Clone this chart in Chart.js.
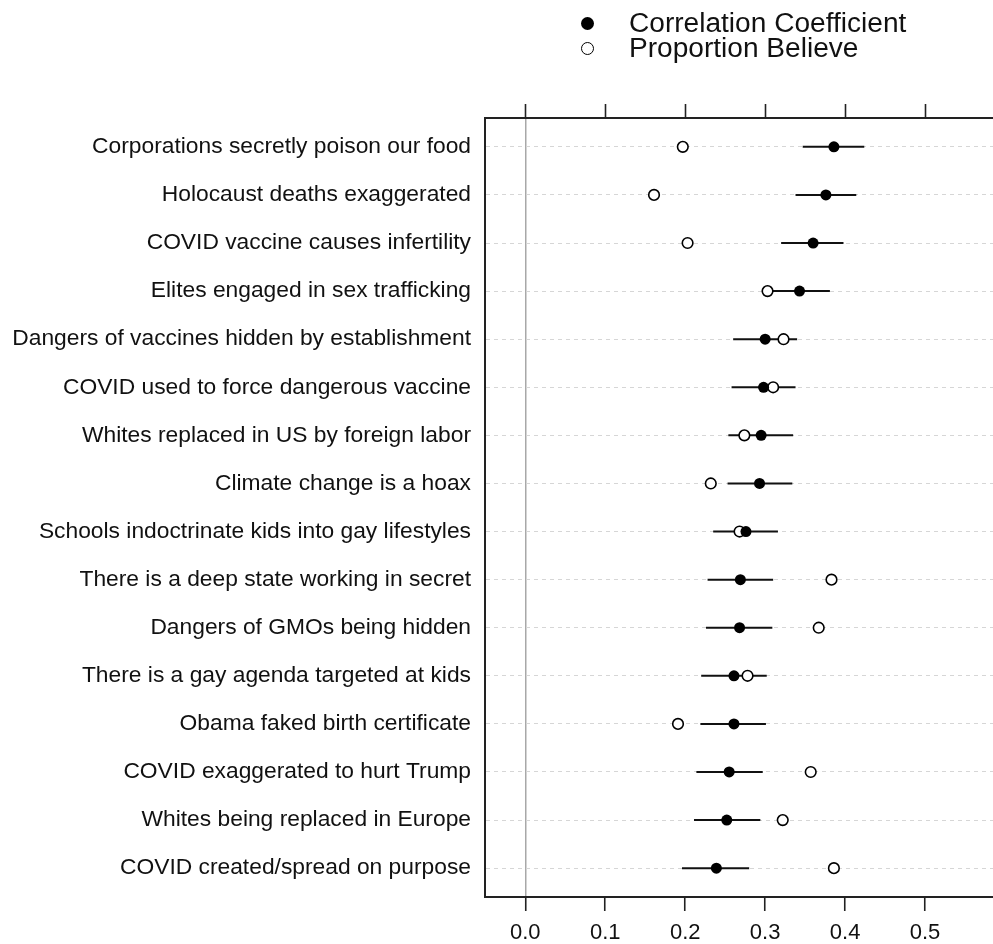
<!DOCTYPE html>
<html>
<head>
<meta charset="utf-8">
<script src="https://cdn.jsdelivr.net/npm/chart.js@4.4.1/dist/chart.umd.min.js"></script>
<style>
  body { margin: 0; background: #fff; }
  #wrap { position: relative; width: 993px; height: 944px; }
  .leg { position: absolute; font-family: "Liberation Sans", Arial, sans-serif; font-size: 27px; line-height: 27px; color: #111; white-space: nowrap; transform: scaleX(1.04); transform-origin: left center; }
  .dot { position: absolute; border-radius: 50%; box-sizing: border-box; }
</style>
</head>
<body>
<div id="wrap">
  <canvas id="chart"></canvas>
  <span class="dot" style="left:581px; top:17px; width:13px; height:13px; background:#000;"></span>
  <span class="leg" style="left:629px; top:10px;">Correlation Coefficient</span>
  <span class="dot" style="left:581px; top:42px; width:13px; height:13px; border:1.6px solid #000; background:#fff;"></span>
  <span class="leg" style="left:629px; top:34.5px;">Proportion Believe</span>
</div>
<script>
// preguntas, de arriba a abajo
const categories = [
  'Corporations secretly poison our food',
  'Holocaust deaths exaggerated',
  'COVID vaccine causes infertility',
  'Elites engaged in sex trafficking',
  'Dangers of vaccines hidden by establishment',
  'COVID used to force dangerous vaccine',
  'Whites replaced in US by foreign labor',
  'Climate change is a hoax',
  'Schools indoctrinate kids into gay lifestyles',
  'There is a deep state working in secret',
  'Dangers of GMOs being hidden',
  'There is a gay agenda targeted at kids',
  'Obama faked birth certificate',
  'COVID exaggerated to hurt Trump',
  'Whites being replaced in Europe',
  'COVID created/spread on purpose'
];
const correlation = [0.386, 0.376, 0.360, 0.343, 0.300, 0.298, 0.295, 0.293, 0.276, 0.269, 0.268, 0.261, 0.261, 0.255, 0.252, 0.239];
const corrLow     = [0.347, 0.338, 0.320, 0.304, 0.260, 0.258, 0.254, 0.253, 0.235, 0.228, 0.226, 0.220, 0.219, 0.214, 0.211, 0.196];
const corrHigh    = [0.424, 0.414, 0.398, 0.381, 0.340, 0.338, 0.335, 0.334, 0.316, 0.310, 0.309, 0.302, 0.301, 0.297, 0.294, 0.280];
const proportion  = [0.197, 0.161, 0.203, 0.303, 0.323, 0.310, 0.274, 0.232, 0.268, 0.383, 0.367, 0.278, 0.191, 0.357, 0.322, 0.386];
const xTicks = [0, 0.1, 0.2, 0.3, 0.4, 0.5];

const FONT = '"Liberation Sans", Arial, sans-serif';

// barras de error (intervalos) dibujadas con las escalas del grafico
const errorBars = {
  id: 'errorBars',
  beforeDatasetsDraw(chart) {
    const { ctx, scales: { x, y } } = chart;
    ctx.save();
    ctx.strokeStyle = '#111';
    ctx.lineWidth = 2;
    corrLow.forEach((lo, i) => {
      const py = y.getPixelForValue(i + 1);
      ctx.beginPath();
      ctx.moveTo(x.getPixelForValue(lo), py);
      ctx.lineTo(x.getPixelForValue(corrHigh[i]), py);
      ctx.stroke();
    });
    ctx.restore();
  }
};

const setXTicks = s => { s.ticks = xTicks.map(v => ({ value: v })); };

new Chart(document.getElementById('chart'), {
  type: 'scatter',
  data: {
    datasets: [
      {
        label: 'Correlation Coefficient',
        data: correlation.map((v, i) => ({ x: v, y: i + 1 })),
        pointRadius: 5.5,
        pointBackgroundColor: '#000',
        pointBorderColor: '#000',
        pointBorderWidth: 0,
        order: 0
      },
      {
        label: 'Proportion Believe',
        data: proportion.map((v, i) => ({ x: v, y: i + 1 })),
        pointRadius: 5.3,
        pointBackgroundColor: '#fff',
        pointBorderColor: '#000',
        pointBorderWidth: 1.6,
        order: 1
      }
    ]
  },
  options: {
    responsive: true,
    maintainAspectRatio: false,
    animation: false,
    events: [],
    layout: { autoPadding: false, padding: { top: 104, left: 0, right: 0, bottom: 0 } },
    plugins: { legend: { display: false }, tooltip: { enabled: false } },
    scales: {
      x: {
        type: 'linear',
        position: 'bottom',
        min: -0.0504,
        max: 0.585,
        afterBuildTicks: setXTicks,
        afterFit: s => { s.height = 47; },
        ticks: {
          callback: v => v.toFixed(1),
          font: { family: FONT, size: 22 },
          color: '#111',
          padding: 9,
          maxRotation: 0
        },
        grid: {
          color: c => (c.tick && c.tick.value === 0 ? '#a8a8a8' : 'rgba(0,0,0,0)'),
          lineWidth: 1.5,
          tickColor: '#222',
          tickLength: 14,
          tickWidth: 1.6
        },
        border: { display: true, color: '#222', width: 2 }
      },
      xTop: {
        type: 'linear',
        position: 'top',
        min: -0.0504,
        max: 0.585,
        afterBuildTicks: setXTicks,
        afterFit: s => { s.height = 14; },
        ticks: { display: false },
        grid: {
          drawOnChartArea: false,
          tickColor: '#222',
          tickLength: 14,
          tickWidth: 1.6
        },
        border: { display: true, color: '#222', width: 2 }
      },
      y: {
        type: 'linear',
        min: 0.4,
        max: 16.6,
        reverse: true,
        afterBuildTicks: s => { s.ticks = categories.map((c, i) => ({ value: i + 1 })); },
        afterFit: s => { s.width = 485; },
        ticks: {
          callback: v => categories[v - 1],
          font: { family: FONT, size: 22.8 },
          color: '#111',
          padding: 14
        },
        grid: {
          color: '#d6d6d6',
          lineWidth: 1,
          drawTicks: false
        },
        border: { display: true, color: '#222', width: 2, dash: [4, 4] }
      }
    }
  },
  plugins: [errorBars]
});
</script>
</body>
</html>
